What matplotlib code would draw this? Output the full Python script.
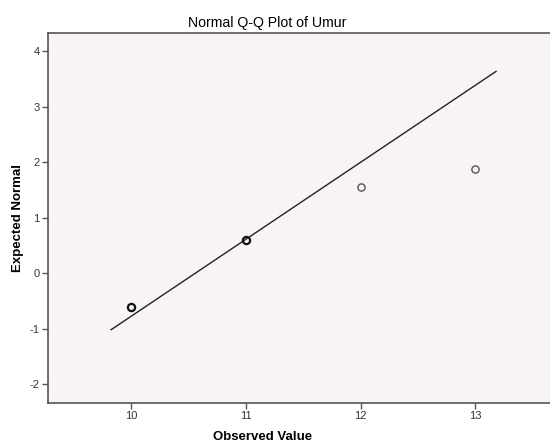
import matplotlib
matplotlib.use("Agg")
import matplotlib.pyplot as plt
import numpy as np

# data
observed = [10, 11, 12, 13]
expected = [-0.60, 0.60, 1.55, 1.88]
point_weight = [1.6, 1.6, 1.0, 1.0]   # ties drawn heavier
line_x = [9.826, 13.18]
line_mean = 10.56
line_sd = 0.72

plt.rcParams['font.family'] = ['Liberation Sans', 'DejaVu Sans']
plt.rcParams['axes.unicode_minus'] = False

fig = plt.figure(figsize=(5.5, 4.44), dpi=100)
ax = fig.add_axes([0.0873, 0.0923, 0.9127, 0.8345])
ax.set_facecolor('#F7F3F7')

lx = np.array(line_x)
ax.plot(lx, (lx - line_mean) / line_sd, color='#222222', lw=1.0)

for x, y, w in zip(observed, expected, point_weight):
    ax.plot(x, y, 'o', ms=5.2, mfc='none',
            mec='#111111' if w > 1 else '#555555', mew=w)

ax.set_xlim(9.277, 13.65)
ax.set_ylim(-2.34, 4.34)
ax.set_xticks([10, 11, 12, 13])
ax.set_yticks([-2, -1, 0, 1, 2, 3, 4])

for side in ['top', 'bottom', 'left']:
    ax.spines[side].set_color('#555555')
    ax.spines[side].set_linewidth(1.2)
ax.spines['right'].set_visible(False)

ax.tick_params(direction='out', length=4, width=1, color='#555555',
               labelsize=8, labelcolor='#333333', pad=2)

ax.set_title('Normal Q-Q Plot of Umur', fontsize=10.2, x=0.436, pad=4)
ax.set_xlabel('Observed Value', fontsize=9.5, fontweight='bold', labelpad=8)
ax.xaxis.set_label_coords(0.428, -0.075)
ax.set_ylabel('Expected Normal', fontsize=9.5, fontweight='bold', labelpad=4)

fig.savefig('out.png', dpi=100)
